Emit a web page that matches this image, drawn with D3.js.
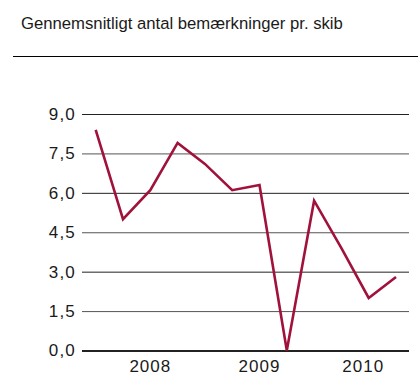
<!DOCTYPE html>
<html>
<head>
<meta charset="utf-8">
<script src="https://cdn.jsdelivr.net/npm/d3@7"></script>
<style>
  html, body { margin: 0; padding: 0; background: #fff; }
  svg { display: block; }
  text { font-family: "Liberation Sans", Arial, sans-serif; fill: #1a1a1a; }
</style>
</head>
<body>
<svg id="chart" width="418" height="383"></svg>
<script>
// Quarterly average number of remarks per ship, 2007 Q3 – 2010 Q2
const quarters = ["2007K3","2007K4","2008K1","2008K2","2008K3","2008K4",
                  "2009K1","2009K2","2009K3","2009K4","2010K1","2010K2"];
const values = [8.4, 5.0, 6.1, 7.9, 7.1, 6.1, 6.3, 0.0, 5.7, 3.9, 2.0, 2.8];
const yTicks = [0, 1.5, 3, 4.5, 6, 7.5, 9];
const yearLabels = ["2008", "2009", "2010"];
const yearLabelAt = [2, 6, 9.8]; // quarter index under which each year label sits
const title = "Gennemsnitligt antal bemærkninger pr. skib";

const svg = d3.select("#chart");
const fmt = v => d3.format(".1f")(v).replace(".", ",");

const x = d3.scaleLinear().domain([0, quarters.length - 1]).range([95.7, 396]);
const y = d3.scaleLinear().domain([0, 9]).range([350.5, 114]);

// Title and rule beneath it
svg.append("text")
  .attr("x", 21).attr("y", 29)
  .attr("font-size", 16.7)
  .text(title);
svg.append("line")
  .attr("x1", 13).attr("x2", 418)
  .attr("y1", 56.5).attr("y2", 56.5)
  .attr("stroke", "#000").attr("stroke-width", 1);

// Horizontal grid with value labels
const yAxis = d3.axisLeft(y)
  .tickValues(yTicks)
  .tickSize(-(409 - 82))
  .tickPadding(6)
  .tickFormat(fmt);
const gy = svg.append("g").attr("transform", "translate(82,0)").call(yAxis);
gy.select(".domain").remove();
gy.selectAll(".tick line")
  .attr("stroke", (d, i) => i % 2 === 0 ? "#222" : "#555")
  .attr("stroke-width", d => d === 0 ? 2 : 1);
gy.selectAll(".tick text")
  .attr("font-size", 17)
  .attr("letter-spacing", 1.2)
  .attr("font-family", "Liberation Sans, Arial, sans-serif")
  .attr("fill", "#1a1a1a");

// Year labels along the bottom
svg.append("g").selectAll("text")
  .data(yearLabels)
  .join("text")
  .attr("x", (d, i) => x(yearLabelAt[i]))
  .attr("y", 372)
  .attr("text-anchor", "middle")
  .attr("font-size", 17)
  .attr("letter-spacing", 1)
  .text(d => d);

// Series line
const line = d3.line()
  .x((d, i) => x(i))
  .y(d => y(d));
svg.append("path")
  .datum(values)
  .attr("d", line)
  .attr("fill", "none")
  .attr("stroke", "#a0123c")
  .attr("stroke-width", 2.6)
  .attr("stroke-linejoin", "miter");
</script>
</body>
</html>
